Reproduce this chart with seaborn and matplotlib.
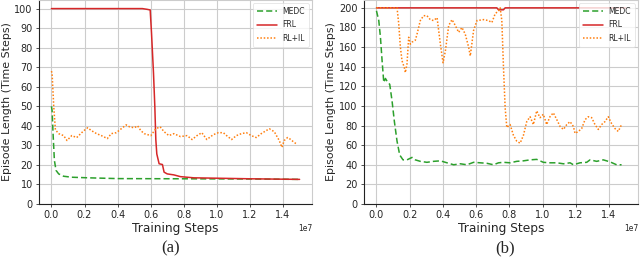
import matplotlib
matplotlib.use("Agg")
import matplotlib.pyplot as plt
import seaborn as sns
import pandas as pd

# ---------------- data (x in units of 1e7 training steps) ----------------
a_medc_x = [0.0, 0.004, 0.010, 0.018, 0.028, 0.044, 0.074, 0.123, 0.223, 0.40, 0.80, 1.20, 1.50]
a_medc_y = [50, 48, 36, 22.3, 17.2, 15.4, 14.2, 13.7, 13.4, 13.0, 12.9, 12.8, 12.6]

a_frl_x = [0.0, 0.30, 0.55, 0.58, 0.597, 0.605, 0.617, 0.625, 0.631, 0.637, 0.651, 0.671,
           0.681, 0.700, 0.740, 0.780, 0.860, 0.999, 1.20, 1.50]
a_frl_y = [100, 100, 100, 99.6, 99.3, 87.5, 67, 50, 33, 25.6, 20.6, 20.2,
           16.3, 15.4, 14.9, 14.0, 13.4, 13.2, 12.9, 12.6]

a_rlil_x = [0.0, 0.004, 0.014, 0.024, 0.044, 0.074, 0.094, 0.123, 0.153, 0.183, 0.203, 0.219,
            0.243, 0.273, 0.302, 0.338, 0.362, 0.392, 0.422, 0.452, 0.472, 0.501, 0.521,
            0.541, 0.561, 0.601, 0.631, 0.657, 0.681, 0.710, 0.740, 0.780, 0.820, 0.850,
            0.880, 0.909, 0.939, 0.979, 1.009, 1.039, 1.059, 1.089, 1.118, 1.148, 1.178,
            1.208, 1.238, 1.268, 1.297, 1.317, 1.347, 1.377, 1.393, 1.407, 1.427, 1.447,
            1.467, 1.487]
a_rlil_y = [68, 67, 50, 38, 36, 35, 32.5, 35, 34, 36.5, 38, 39,
            37.5, 36, 35, 33.5, 36, 36.5, 38.5, 40.5, 39.5, 39, 40,
            37.5, 36, 35, 38.5, 39.5, 37, 35, 36, 34.5, 35, 33,
            35, 36.5, 33, 35.5, 36.5, 36.5, 35, 33, 35, 36, 36.5,
            35, 34, 36, 37.5, 38.5, 37, 32.5, 29, 32.5, 34, 33,
            31.5, 30.5]

b_medc_x = [0.0, 0.014, 0.024, 0.034, 0.044, 0.054, 0.068, 0.080, 0.094, 0.108, 0.124, 0.140,
            0.160, 0.184, 0.214, 0.234, 0.264, 0.304, 0.344, 0.385, 0.425, 0.465, 0.505,
            0.545, 0.585, 0.625, 0.665, 0.705, 0.735, 0.765, 0.805, 0.845, 0.885, 0.925,
            0.965, 1.005, 1.045, 1.086, 1.126, 1.166, 1.186, 1.226, 1.266, 1.286, 1.326,
            1.366, 1.406, 1.446, 1.476]
b_medc_y = [197, 187, 170, 146, 124, 128, 124, 122, 105, 84, 64, 50,
            45, 45, 47.5, 45, 43.5, 42.5, 43.5, 44, 42, 40, 41,
            40, 42.5, 42, 41.5, 40, 42, 42.5, 42, 43.5, 44, 45,
            45.5, 42.5, 42, 42, 41, 42, 40, 42, 42.5, 45, 43.5,
            45, 43, 40, 40]

b_frl_x = [0.0, 0.725, 0.735, 0.765, 0.775, 1.50]
b_frl_y = [200, 200, 198, 198, 200, 200]

b_rlil_x = [0.0, 0.124, 0.134, 0.144, 0.154, 0.168, 0.174, 0.184, 0.194, 0.204, 0.214, 0.234,
            0.244, 0.264, 0.284, 0.304, 0.324, 0.344, 0.365, 0.385, 0.401, 0.415, 0.435,
            0.455, 0.475, 0.495, 0.515, 0.535, 0.555, 0.565, 0.585, 0.605, 0.645, 0.675,
            0.695, 0.715, 0.735, 0.745, 0.755, 0.765, 0.775, 0.785, 0.805, 0.825, 0.845,
            0.865, 0.885, 0.905, 0.925, 0.945, 0.965, 0.985, 1.005, 1.025, 1.045, 1.065,
            1.086, 1.106, 1.126, 1.146, 1.166, 1.186, 1.196, 1.216, 1.236, 1.256, 1.276,
            1.296, 1.316, 1.336, 1.356, 1.376, 1.396, 1.416, 1.436, 1.456, 1.476]
b_rlil_y = [200, 200, 184, 160, 146, 139, 134, 143, 170, 163, 165, 167,
            173, 187, 192, 192, 188, 187, 190, 163, 144, 156, 182,
            188, 182, 175, 180, 173, 160, 151, 177, 187, 188, 187,
            185, 194, 197, 200, 187, 139, 98, 78, 81, 70, 64,
            62, 70, 84, 89, 81, 95, 88, 91.5, 81, 89, 93,
            86, 79, 76, 81, 84, 79, 72, 74, 77, 86, 89,
            88, 81, 76, 81, 84, 89, 82, 77, 74, 81]

series_names = ["MEDC", "FRL", "RL+IL"]
panel_labels = ["(a)", "(b)"]
xlabel = "Training Steps"
ylabel = "Episode Length (Time Steps)"
SCALE = 1e7

colors = {"MEDC": "#2ca02c", "FRL": "#d62728", "RL+IL": "#ff7f0e"}
styles = {"MEDC": (0, (4, 2)), "FRL": "-", "RL+IL": (0, (1, 1.2))}

sns.set_style("whitegrid")
plt.rcParams["font.family"] = ["DejaVu Sans"]

fig = plt.figure(figsize=(6.4, 2.65), dpi=100)
ax_a = fig.add_axes([39 / 640, 61 / 265, 273 / 640, 204 / 265])
ax_b = fig.add_axes([364 / 640, 61 / 265, 274 / 640, 204 / 265])

panels = [
    (ax_a, [(a_medc_x, a_medc_y), (a_frl_x, a_frl_y), (a_rlil_x, a_rlil_y)], 104.4, [0, 10, 20, 30, 40, 50, 60, 70, 80, 90, 100]),
    (ax_b, [(b_medc_x, b_medc_y), (b_frl_x, b_frl_y), (b_rlil_x, b_rlil_y)], 208, [0, 20, 40, 60, 80, 100, 120, 140, 160, 180, 200]),
]

for ax, data, ytop, yticks in panels:
    for name, (xs, ys) in zip(series_names, data):
        df = pd.DataFrame({"step": [v * SCALE for v in xs], "len": ys})
        sns.lineplot(data=df, x="step", y="len", ax=ax, color=colors[name],
                     linestyle=styles[name], linewidth=1.1, label=name)
    ax.set_xlim(-0.075 * SCALE, 1.575 * SCALE)
    ax.set_ylim(0, ytop)
    ax.set_yticks(yticks)
    ax.set_xticks([i * 0.2 * SCALE for i in range(8)])
    ax.ticklabel_format(axis="x", style="sci", scilimits=(0, 0))
    ax.xaxis.get_offset_text().set_fontsize(5.5)
    ax.tick_params(axis="both", labelsize=7, length=2.5, width=0.6, pad=2,
                   bottom=True, left=True, color="#333333")
    ax.set_xlabel(xlabel, fontsize=8.8, labelpad=1)
    ax.set_ylabel(ylabel, fontsize=7.9, labelpad=2)
    ax.grid(True, color="#cccccc", linewidth=0.8)
    for side in ["left", "bottom"]:
        ax.spines[side].set_color("#222222")
        ax.spines[side].set_linewidth(0.8)
    for side in ["right", "top"]:
        ax.spines[side].set_color("#cccccc")
        ax.spines[side].set_linewidth(0.8)
    leg = ax.legend(loc="upper right", fontsize=5.5, frameon=True, handlelength=2.6,
                    borderpad=0.5, labelspacing=0.6, borderaxespad=0.4)
    leg.get_frame().set_edgecolor("#dddddd")
    leg.get_frame().set_linewidth(0.6)

fig.text(0.266, 0.062, panel_labels[0], ha="center", va="center", fontsize=12,
         family=["Liberation Serif", "DejaVu Serif"])
fig.text(0.789, 0.062, panel_labels[1], ha="center", va="center", fontsize=12,
         family=["Liberation Serif", "DejaVu Serif"])

fig.savefig("out.png", dpi=100)
